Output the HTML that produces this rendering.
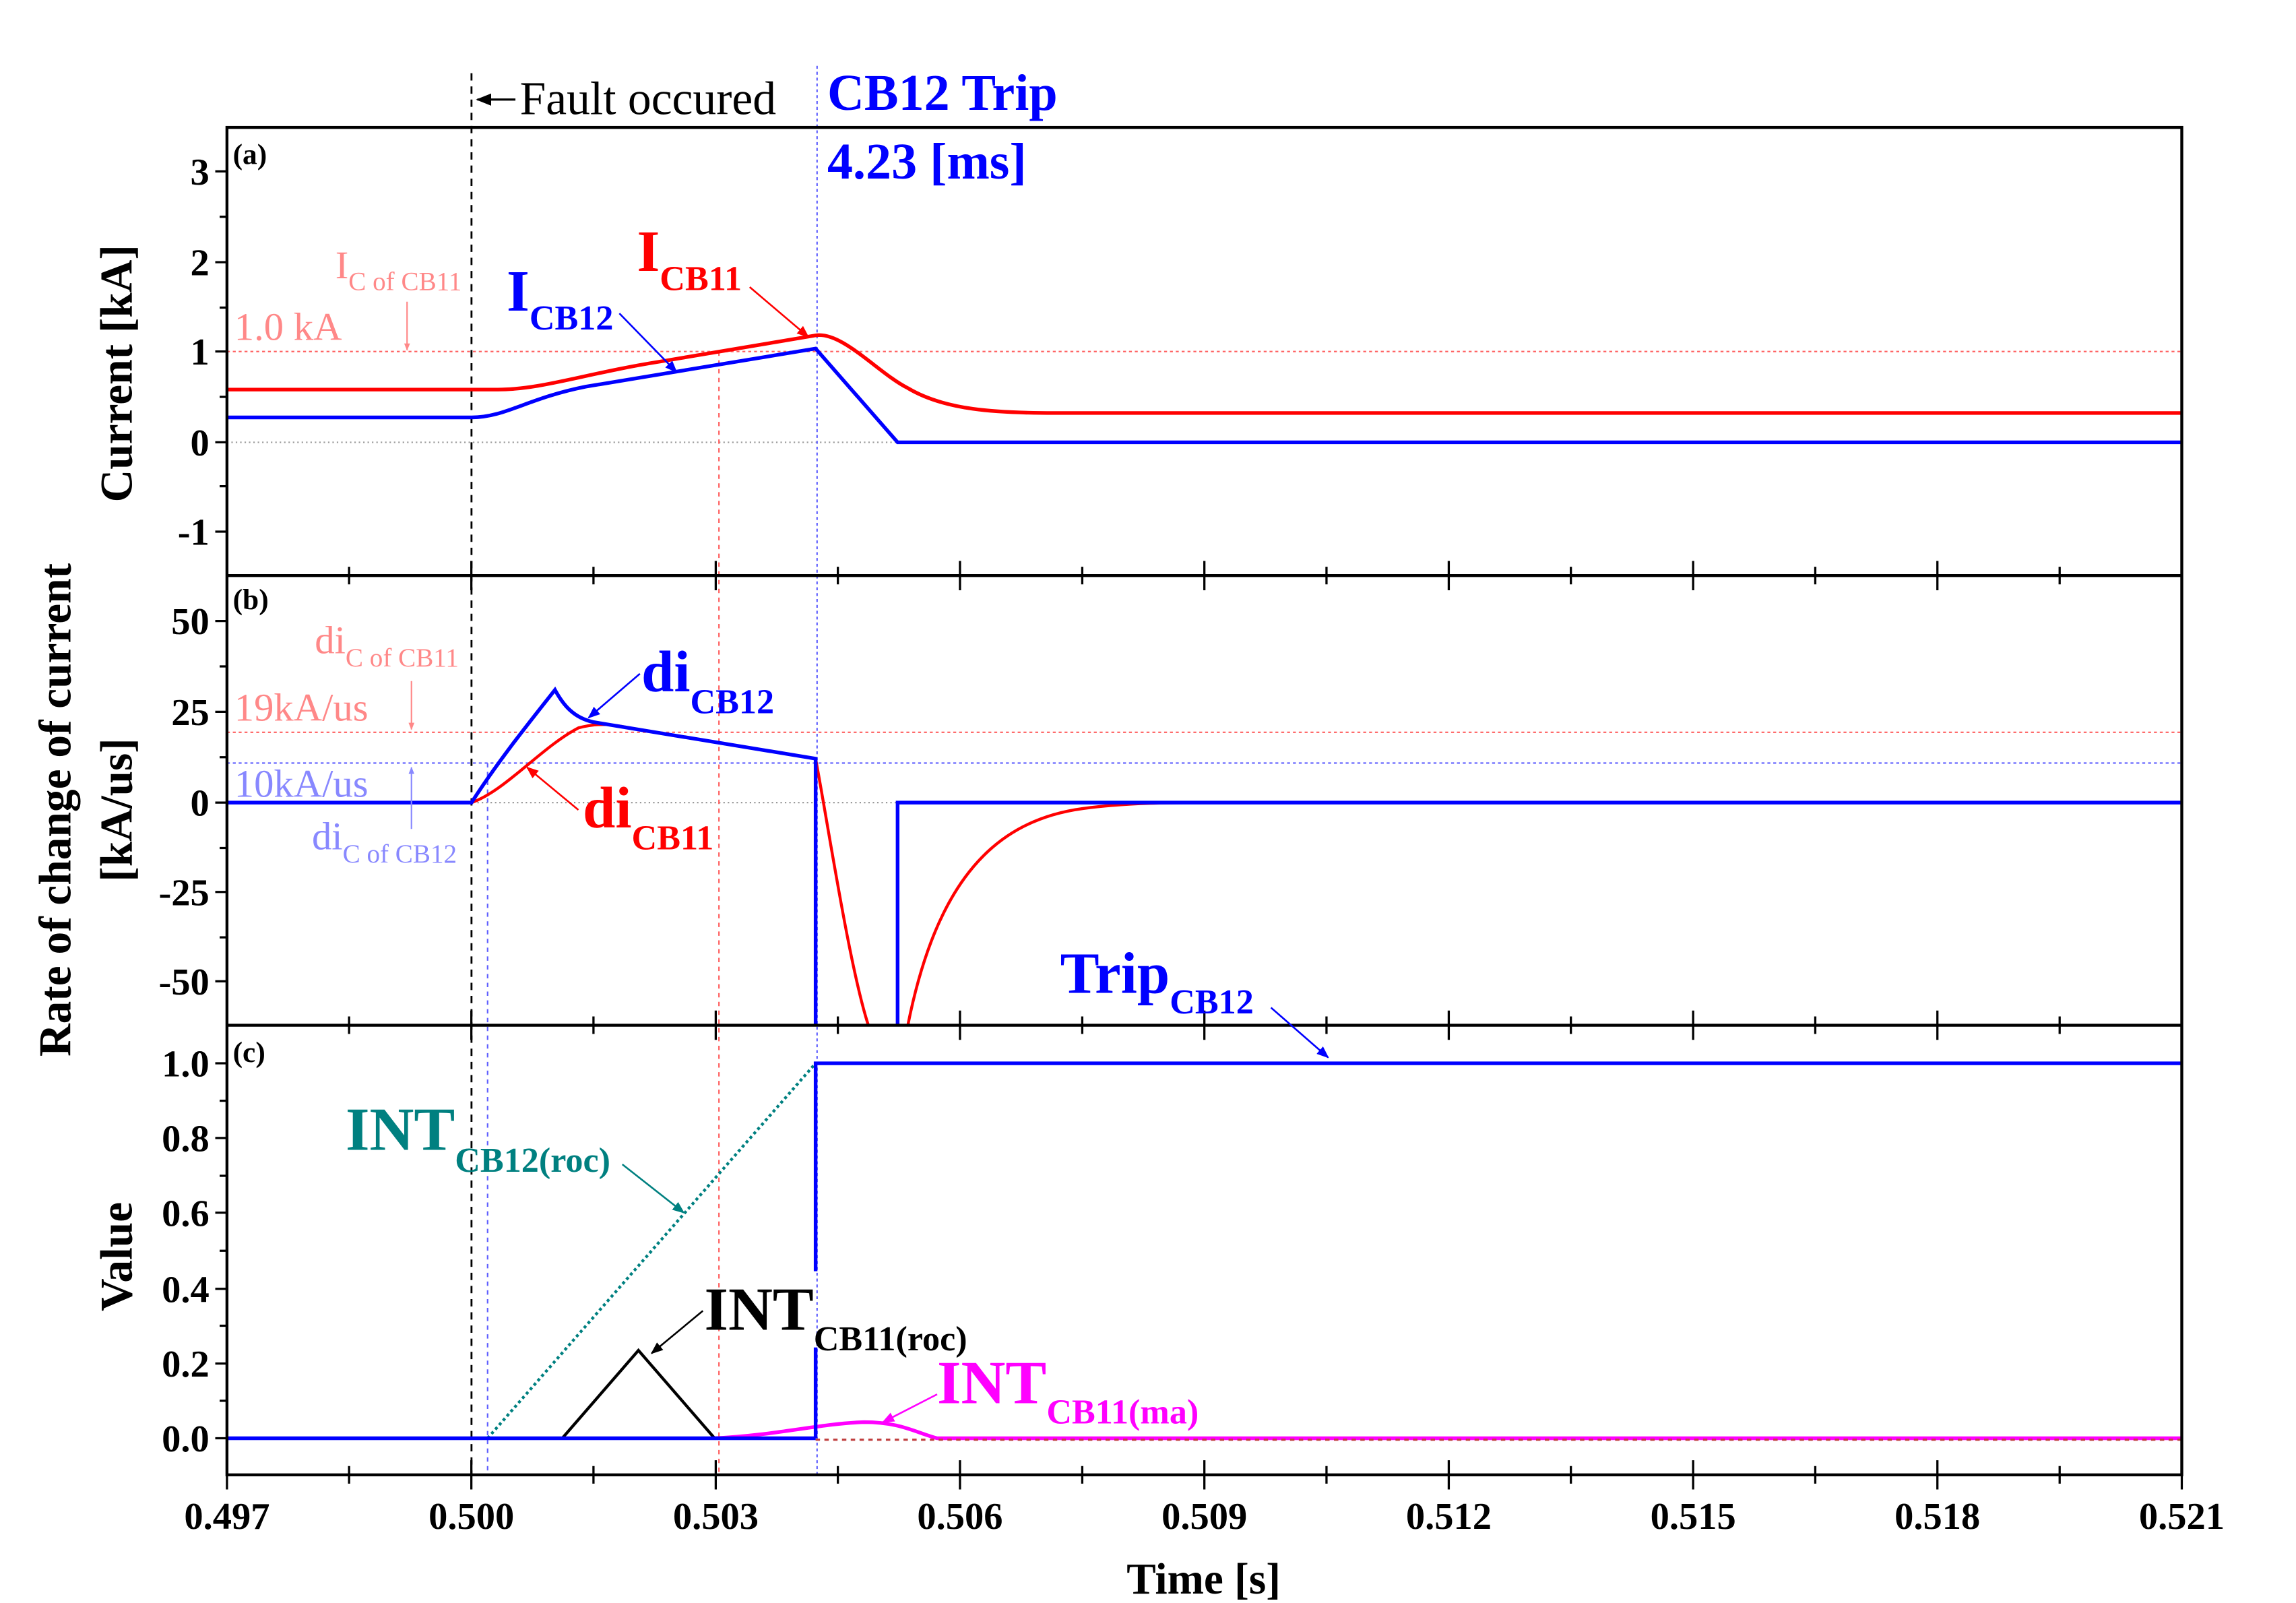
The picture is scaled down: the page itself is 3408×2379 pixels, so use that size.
<!DOCTYPE html>
<html><head><meta charset="utf-8"><style>
html,body{margin:0;padding:0;background:#fff}
svg{display:block}
text{font-family:"Liberation Serif",serif}
</style></head><body>
<svg width="3408" height="2379" viewBox="0 0 1568 1094.5" preserveAspectRatio="none" xmlns="http://www.w3.org/2000/svg">
<defs>
<marker id="ak" viewBox="0 0 10 10" refX="9" refY="5" markerWidth="7" markerHeight="7" orient="auto"><path d="M0,1 L10,5 L0,9z" fill="#000"/></marker>
<marker id="ab" viewBox="0 0 10 10" refX="9" refY="5" markerWidth="7" markerHeight="7" orient="auto"><path d="M0,1 L10,5 L0,9z" fill="#0000ff"/></marker>
<marker id="ar" viewBox="0 0 10 10" refX="9" refY="5" markerWidth="7" markerHeight="7" orient="auto"><path d="M0,1 L10,5 L0,9z" fill="#ff0000"/></marker>
<marker id="at" viewBox="0 0 10 10" refX="9" refY="5" markerWidth="7" markerHeight="7" orient="auto"><path d="M0,1 L10,5 L0,9z" fill="#008080"/></marker>
<marker id="am" viewBox="0 0 10 10" refX="9" refY="5" markerWidth="7" markerHeight="7" orient="auto"><path d="M0,1 L10,5 L0,9z" fill="#ff00ff"/></marker>
<marker id="as" viewBox="0 0 10 10" refX="9" refY="5" markerWidth="5" markerHeight="5" orient="auto"><path d="M0,1 L10,5 L0,9z" fill="#f88"/></marker>
<marker id="al" viewBox="0 0 10 10" refX="9" refY="5" markerWidth="5" markerHeight="5" orient="auto"><path d="M0,1 L10,5 L0,9z" fill="#88f"/></marker>
</defs>

<g fill="none" stroke-width="1">
<line x1="155" y1="240" x2="1490" y2="240" stroke="#ff6060" stroke-dasharray="2,2"/>
<line x1="155" y1="302" x2="1490" y2="302" stroke="#999" stroke-dasharray="1,2"/>
<line x1="155" y1="500" x2="1490" y2="500" stroke="#ff6060" stroke-dasharray="2,2"/>
<line x1="155" y1="521" x2="1490" y2="521" stroke="#6060ff" stroke-dasharray="2,2"/>
<line x1="155" y1="548" x2="1490" y2="548" stroke="#999" stroke-dasharray="1,2"/>
<line x1="491" y1="240" x2="491" y2="1007" stroke="#ff6060" stroke-dasharray="3,3"/>
<line x1="333" y1="521" x2="333" y2="1007" stroke="#6060ff" stroke-dasharray="3,3"/>
<line x1="558" y1="45" x2="558" y2="1007" stroke="#6060ff" stroke-dasharray="2,2"/>
<line x1="322" y1="50" x2="322" y2="1007" stroke="#000" stroke-width="1.3" stroke-dasharray="5,4"/>
</g>

<path d="M155,266 L340,266 C370,266 400,255 450,247 L557,229 C575,226 600,255 620,265 C645,280 680,282 720,282 L1490,282" fill="none" stroke="#ff0000" stroke-width="2.5"/>
<path d="M155,285 L322,285 C345,285 360,272 400,264 L557,238 L613,302 L1490,302" fill="none" stroke="#0000ff" stroke-width="2.5"/>

<path d="M155,548 L322,548 C345,540 370,510 395,497 C410,493 420,495 430,497 L557,518 C565,560 580,660 593,700 M620,700 C640,600 680,560 740,552 C770,548 800,548 830,548" fill="none" stroke="#ff0000" stroke-width="2"/>
<path d="M155,548 L322,548 C340,520 360,495 379,471 C385,482 392,490 405,493 L557,518 L557,700 M613,700 L613,548 L1490,548" fill="none" stroke="#0000ff" stroke-width="2.5"/>

<line x1="333" y1="982" x2="557" y2="726" stroke="#008080" stroke-width="2" stroke-dasharray="2,2"/>
<path d="M155,982 L384,982 L436,922 L488,982 L557,982" fill="none" stroke="#000" stroke-width="2"/>
<path d="M488,982 C530,980 560,972 590,971 C615,971 625,978 640,982 L1490,982" fill="none" stroke="#ff00ff" stroke-width="2.5"/>
<line x1="557" y1="983" x2="1490" y2="983" stroke="#c04040" stroke-width="1.5" stroke-dasharray="3,3"/>
<path d="M155,982 L557,982 M557,982 L557,920 M557,868 L557,726 L1490,726" fill="none" stroke="#0000ff" stroke-width="2.5"/>

<g fill="none" stroke="#000" stroke-width="2">
<rect x="155" y="87" width="1335" height="920"/>
<line x1="155" y1="393" x2="1490" y2="393"/>
<line x1="155" y1="700" x2="1490" y2="700"/>
</g>

<g stroke="#000" stroke-width="1.5">
<path d="M155,1007v-10M238.4,1007v-6M321.9,1007v-10M405.3,1007v-6M488.8,1007v-10M572.2,1007v-6M655.6,1007v-10M739.1,1007v-6M822.5,1007v-10M905.9,1007v-6M989.4,1007v-10M1072.8,1007v-6M1156.3,1007v-10M1239.7,1007v-6M1323.1,1007v-10M1406.6,1007v-6M1490,1007v-10"/>
<path d="M155,1007v10M238.4,1007v6M321.9,1007v10M405.3,1007v6M488.8,1007v10M572.2,1007v6M655.6,1007v10M739.1,1007v6M822.5,1007v10M905.9,1007v6M989.4,1007v10M1072.8,1007v6M1156.3,1007v10M1239.7,1007v6M1323.1,1007v10M1406.6,1007v6M1490,1007v10"/>
<path d="M238.4,700v6M321.9,700v10M405.3,700v6M488.8,700v10M572.2,700v6M655.6,700v10M739.1,700v6M822.5,700v10M905.9,700v6M989.4,700v10M1072.8,700v6M1156.3,700v10M1239.7,700v6M1323.1,700v10M1406.6,700v6"/>
<path d="M238.4,700v-6M321.9,700v-10M405.3,700v-6M488.8,700v-10M572.2,700v-6M655.6,700v-10M739.1,700v-6M822.5,700v-10M905.9,700v-6M989.4,700v-10M1072.8,700v-6M1156.3,700v-10M1239.7,700v-6M1323.1,700v-10M1406.6,700v-6"/>
<path d="M238.4,393v6M321.9,393v10M405.3,393v6M488.8,393v10M572.2,393v6M655.6,393v10M739.1,393v6M822.5,393v10M905.9,393v6M989.4,393v10M1072.8,393v6M1156.3,393v10M1239.7,393v6M1323.1,393v10M1406.6,393v6"/>
<path d="M238.4,393v-6M321.9,393v-10M405.3,393v-6M488.8,393v-10M572.2,393v-6M655.6,393v-10M739.1,393v-6M822.5,393v-10M905.9,393v-6M989.4,393v-10M1072.8,393v-6M1156.3,393v-10M1239.7,393v-6M1323.1,393v-10M1406.6,393v-6"/>
<path d="M155,117h-8M155,179h-8M155,240h-8M155,302h-8M155,363h-8M155,148h-5M155,210h-5M155,271h-5M155,332h-5"/>
<path d="M155,424h-8M155,486h-8M155,548h-8M155,609h-8M155,670h-8M155,455h-5M155,517h-5M155,579h-5M155,640h-5"/>
<path d="M155,726h-8M155,777h-8M155,828h-8M155,880h-8M155,931h-8M155,982h-8M155,751.6h-5M155,802.8h-5M155,854h-5M155,905.2h-5M155,956.4h-5"/>
</g>

<g font-size="26" font-weight="bold" text-anchor="end">
<text x="143" y="126">3</text><text x="143" y="188">2</text><text x="143" y="249">1</text><text x="143" y="311">0</text><text x="143" y="372">-1</text>
<text x="143" y="433">50</text><text x="143" y="495">25</text><text x="143" y="557">0</text><text x="143" y="618">-25</text><text x="143" y="679">-50</text>
<text x="143" y="735">1.0</text><text x="143" y="786">0.8</text><text x="143" y="837">0.6</text><text x="143" y="889">0.4</text><text x="143" y="940">0.2</text><text x="143" y="991">0.0</text>
</g>
<g font-size="26" font-weight="bold" text-anchor="middle">
<text x="155" y="1044">0.497</text><text x="321.9" y="1044">0.500</text><text x="488.8" y="1044">0.503</text><text x="655.6" y="1044">0.506</text><text x="822.5" y="1044">0.509</text><text x="989.4" y="1044">0.512</text><text x="1156.3" y="1044">0.515</text><text x="1323.1" y="1044">0.518</text><text x="1490" y="1044">0.521</text>
<text x="822" y="1088" font-size="30">Time [s]</text>
</g>
<g font-size="31" font-weight="bold" text-anchor="middle">
<text transform="translate(90,255) rotate(-90)">Current [kA]</text>
<text transform="translate(48,553) rotate(-90)">Rate of change of current</text>
<text transform="translate(90,553) rotate(-90)">[kA/us]</text>
<text transform="translate(90,858) rotate(-90)">Value</text>
</g>
<g font-size="20" font-weight="bold">
<text x="159" y="112">(a)</text><text x="159" y="416">(b)</text><text x="159" y="725">(c)</text>
</g>

<line x1="352" y1="68" x2="326" y2="68" stroke="#000" stroke-width="1.5" marker-end="url(#ak)"/>
<text x="355" y="78" font-size="32">Fault occured</text>
<text x="565" y="75" font-size="35" font-weight="bold" fill="#0000ff">CB12 Trip</text>
<text x="565" y="122" font-size="35" font-weight="bold" fill="#0000ff">4.23 [ms]</text>

<text x="160" y="232" font-size="27" fill="#f88">1.0 kA</text>
<text x="229" y="190" font-size="27" fill="#f88">I<tspan font-size="18" dy="8">C of CB11</tspan></text>
<line x1="278" y1="206" x2="278" y2="239" stroke="#f88" stroke-width="1" marker-end="url(#as)"/>
<text x="346" y="212" font-size="40" font-weight="bold" fill="#0000ff">I<tspan font-size="24" dy="13">CB12</tspan></text>
<line x1="423" y1="214" x2="462" y2="254" stroke="#0000ff" stroke-width="1.2" marker-end="url(#ab)"/>
<text x="435" y="185" font-size="40" font-weight="bold" fill="#ff0000">I<tspan font-size="24" dy="13">CB11</tspan></text>
<line x1="512" y1="196" x2="552" y2="230" stroke="#ff0000" stroke-width="1.2" marker-end="url(#ar)"/>

<text x="215" y="446" font-size="27" fill="#f88">di<tspan font-size="18" dy="9">C of CB11</tspan></text>
<line x1="281" y1="465" x2="281" y2="498" stroke="#f88" stroke-width="1" marker-end="url(#as)"/>
<text x="160" y="492" font-size="27" fill="#f88">19kA/us</text>
<text x="160" y="544" font-size="27" fill="#88f">10kA/us</text>
<line x1="281" y1="566" x2="281" y2="524" stroke="#88f" stroke-width="1" marker-end="url(#al)"/>
<text x="213" y="580" font-size="27" fill="#88f">di<tspan font-size="18" dy="9">C of CB12</tspan></text>
<text x="438" y="472" font-size="40" font-weight="bold" fill="#0000ff">di<tspan font-size="24" dy="15">CB12</tspan></text>
<line x1="437" y1="460" x2="402" y2="490" stroke="#0000ff" stroke-width="1.2" marker-end="url(#ab)"/>
<text x="398" y="565" font-size="40" font-weight="bold" fill="#ff0000">di<tspan font-size="24" dy="15">CB11</tspan></text>
<line x1="395" y1="553" x2="360" y2="524" stroke="#ff0000" stroke-width="1.2" marker-end="url(#ar)"/>
<text x="724" y="678" font-size="40" font-weight="bold" fill="#0000ff">Trip<tspan font-size="24" dy="14">CB12</tspan></text>
<line x1="868" y1="688" x2="907" y2="722" stroke="#0000ff" stroke-width="1.2" marker-end="url(#ab)"/>

<text x="236" y="785" font-size="42" font-weight="bold" fill="#008080">INT<tspan font-size="24" dy="15">CB12(roc)</tspan></text>
<line x1="425" y1="795" x2="467" y2="828" stroke="#008080" stroke-width="1.2" marker-end="url(#at)"/>
<text x="481" y="908" font-size="42" font-weight="bold" fill="#000">INT<tspan font-size="24" dy="14">CB11(roc)</tspan></text>
<line x1="480" y1="895" x2="445" y2="924" stroke="#000" stroke-width="1.2" marker-end="url(#ak)"/>
<text x="640" y="958" font-size="42" font-weight="bold" fill="#ff00ff">INT<tspan font-size="24" dy="14">CB11(ma)</tspan></text>
<line x1="640" y1="952" x2="603" y2="971" stroke="#ff00ff" stroke-width="1.2" marker-end="url(#am)"/>
</svg>
</body></html>
